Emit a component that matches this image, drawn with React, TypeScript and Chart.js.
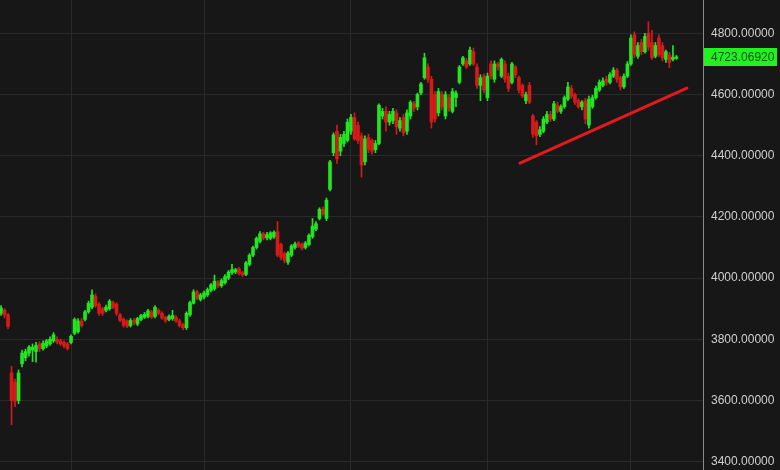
import React, { useEffect, useRef } from "react";
import { Chart, registerables } from "chart.js";

Chart.register(...registerables);

const opens = [
  3885, 3895, 3880, 3690, 3660, 3600, 3720, 3740, 3755, 3765,
  3760, 3785, 3770, 3778, 3785, 3795, 3800, 3795, 3790, 3785,
  3790, 3820, 3825, 3860, 3865, 3890, 3905, 3940, 3915, 3900,
  3895, 3900, 3920, 3915, 3880, 3866, 3860, 3845, 3862, 3850,
  3865, 3872, 3875, 3890, 3875, 3895, 3885, 3872, 3865, 3868,
  3872, 3860, 3848, 3838, 3880, 3918, 3955, 3930, 3938, 3945,
  3960, 3965, 3985, 3975, 3985, 4000, 4018, 4020, 4030, 4018,
  4012, 4045, 4075, 4100, 4120, 4145, 4132, 4130, 4135, 4152,
  4110, 4080, 4052, 4075, 4100, 4115, 4110, 4100, 4110, 4135,
  4160, 4195, 4225, 4195, 4290, 4410, 4480, 4415, 4440, 4450,
  4480, 4525, 4500, 4465, 4380, 4460, 4450, 4420, 4440, 4530,
  4545, 4510, 4515, 4540, 4490, 4525, 4480, 4530, 4570, 4560,
  4605, 4655, 4690, 4650, 4600, 4540, 4600, 4530, 4590, 4545,
  4590, 4640, 4700, 4710, 4700, 4740, 4690, 4630, 4660, 4590,
  4700, 4650, 4700, 4660, 4700, 4660, 4640, 4690, 4655, 4630,
  4580, 4630, 4530, 4510, 4470, 4480, 4510, 4535, 4520, 4565,
  4545, 4560, 4585, 4620, 4600, 4580, 4560, 4580, 4500, 4560,
  4590, 4615, 4630, 4650, 4640, 4660, 4680, 4655, 4625, 4660,
  4700, 4795, 4725, 4770, 4740, 4800, 4770, 4725, 4785, 4760,
  4715, 4730, 4715, 4718,
];

const highs = [
  3910, 3900, 3885, 3712, 3670, 3700, 3765, 3768, 3780, 3785,
  3790, 3792, 3795, 3800, 3808, 3822, 3808, 3800, 3795, 3790,
  3815, 3870, 3868, 3868, 3895, 3925, 3962, 3948, 3920, 3905,
  3912, 3930, 3925, 3920, 3885, 3870, 3864, 3868, 3868, 3872,
  3882, 3888, 3898, 3895, 3910, 3900, 3890, 3876, 3880, 3895,
  3878, 3866, 3852, 3890, 3925, 3962, 3960, 3950, 3958, 3968,
  3982, 4010, 3992, 3998, 4012, 4025, 4045, 4032, 4035, 4022,
  4055, 4080, 4105, 4135, 4152, 4150, 4150, 4152, 4155, 4185,
  4115, 4085, 4088, 4110, 4118, 4120, 4115, 4120, 4145, 4195,
  4185, 4230, 4232, 4262, 4385, 4475, 4500, 4470, 4480, 4520,
  4535, 4540, 4510, 4475, 4465, 4470, 4455, 4450, 4570, 4555,
  4560, 4545, 4555, 4550, 4525, 4535, 4550, 4580, 4578, 4605,
  4640, 4735, 4700, 4660, 4610, 4620, 4610, 4610, 4600, 4620,
  4612, 4695, 4725, 4718, 4755, 4752, 4700, 4665, 4668, 4670,
  4710, 4710, 4705, 4720, 4710, 4670, 4705, 4695, 4660, 4635,
  4608, 4640, 4535, 4515, 4495, 4528, 4545, 4545, 4578, 4575,
  4566, 4596, 4640, 4630, 4605, 4586, 4580, 4588, 4595, 4598,
  4628, 4648, 4655, 4660, 4672, 4688, 4686, 4660, 4668, 4708,
  4795, 4805, 4770, 4780, 4800, 4838, 4810, 4770, 4795, 4770,
  4745, 4738, 4760, 4728,
];

const lows = [
  3878, 3870, 3835, 3521, 3580, 3590, 3710, 3730, 3745, 3727,
  3725, 3760, 3765, 3772, 3780, 3790, 3785, 3780, 3772, 3765,
  3785, 3815, 3820, 3840, 3860, 3885, 3900, 3905, 3878, 3878,
  3890, 3895, 3900, 3878, 3858, 3840, 3838, 3840, 3848, 3845,
  3860, 3868, 3870, 3868, 3870, 3880, 3865, 3855, 3860, 3862,
  3855, 3840, 3832, 3832, 3875, 3915, 3930, 3925, 3932, 3940,
  3955, 3960, 3970, 3970, 3980, 3995, 4012, 4015, 4010, 4005,
  4008, 4040, 4070, 4095, 4115, 4125, 4125, 4125, 4130, 4070,
  4060, 4050, 4045, 4070, 4095, 4100, 4092, 4095, 4105, 4130,
  4155, 4190, 4205, 4188, 4285, 4400, 4375, 4400, 4430, 4445,
  4470, 4450, 4440, 4330, 4370, 4410, 4405, 4410, 4435, 4520,
  4480, 4500, 4505, 4470, 4480, 4465, 4470, 4520, 4545, 4550,
  4600, 4650, 4640, 4490, 4510, 4530, 4550, 4520, 4545, 4540,
  4560, 4635, 4695, 4685, 4695, 4695, 4620, 4580, 4605, 4580,
  4650, 4640, 4680, 4655, 4640, 4610, 4635, 4655, 4605, 4590,
  4570, 4570, 4460, 4436, 4462, 4475, 4505, 4512, 4515, 4540,
  4538, 4555, 4580, 4588, 4568, 4555, 4550, 4505, 4490, 4555,
  4585, 4610, 4625, 4630, 4635, 4655, 4640, 4615, 4620, 4655,
  4695, 4720, 4718, 4730, 4735, 4745, 4715, 4720, 4725, 4710,
  4705, 4688, 4710, 4715,
];

const closes = [
  3902, 3880, 3842, 3600, 3598, 3690, 3755, 3760, 3775, 3775,
  3780, 3770, 3787, 3795, 3800, 3815, 3792, 3785, 3778, 3770,
  3810, 3865, 3860, 3845, 3890, 3918, 3945, 3910, 3885, 3885,
  3905, 3925, 3905, 3885, 3862, 3846, 3843, 3862, 3855, 3868,
  3878, 3882, 3893, 3872, 3905, 3885, 3870, 3862, 3875, 3878,
  3860, 3845, 3838, 3885, 3920, 3955, 3935, 3945, 3952, 3962,
  3978, 3990, 3975, 3992, 4005, 4020, 4028, 4028, 4015, 4010,
  4050, 4075, 4100, 4130, 4145, 4130, 4142, 4148, 4150, 4075,
  4068, 4058, 4082, 4105, 4112, 4105, 4098, 4115, 4140, 4170,
  4178, 4225, 4210, 4255, 4380, 4468, 4390, 4460, 4470, 4510,
  4525, 4455, 4450, 4370, 4455, 4420, 4415, 4440, 4565, 4545,
  4510, 4535, 4545, 4495, 4515, 4475, 4540, 4575, 4555, 4600,
  4635, 4720, 4650, 4510, 4520, 4610, 4560, 4600, 4555, 4610,
  4605, 4690, 4720, 4690, 4745, 4700, 4630, 4655, 4615, 4660,
  4660, 4700, 4690, 4715, 4650, 4620, 4700, 4665, 4615, 4595,
  4600, 4575, 4470, 4465, 4485, 4520, 4535, 4520, 4570, 4545,
  4560, 4590, 4625, 4595, 4575, 4560, 4575, 4520, 4585, 4590,
  4620, 4640, 4645, 4640, 4665, 4680, 4650, 4625, 4660, 4700,
  4785, 4730, 4760, 4740, 4790, 4755, 4720, 4760, 4730, 4720,
  4740, 4705, 4722, 4723.0692,
];

// candle indices where a new month starts (vertical grid lines)
const monthStarts = [20, 58, 100, 139, 180];
const yTicks = [3400, 3600, 3800, 4000, 4200, 4400, 4600, 4800];
// hand-drawn support line (candle index, price)
const trendX = [148.3, 196];
const trendY = [4376, 4621];
const lastPrice = 4723.0692;

const UP = "#22e622";
const DOWN = "#d61a1a";
const FONT = '"Liberation Sans", Arial, sans-serif';

export default function App() {
  const ref = useRef<HTMLCanvasElement>(null);

  useEffect(() => {
    if (!ref.current) return;
    const idx = closes.map((_, i) => i);
    const color = (ctx: any) =>
      closes[ctx.dataIndex] >= opens[ctx.dataIndex] ? UP : DOWN;

    const priceTag = {
      id: "priceTag",
      afterDraw(chart: any) {
        const c = chart.ctx;
        const y = chart.scales.y.getPixelForValue(lastPrice);
        const left = chart.chartArea.right + 1;
        c.save();
        c.fillStyle = "#1ff21f";
        c.fillRect(left, Math.round(y) - 9, 73, 18);
        c.fillStyle = "#155215";
        c.font = "12px " + FONT;
        c.textBaseline = "middle";
        c.textAlign = "left";
        c.fillText(lastPrice.toFixed(5), left + 7, Math.round(y) + 0.5);
        c.restore();
      },
    };

    const chart = new Chart(ref.current, {
      type: "bar",
      data: {
        datasets: [
          {
            type: "line",
            data: trendX.map((x, k) => ({ x, y: trendY[k] })),
            borderColor: "#e3191d",
            borderWidth: 3,
            pointRadius: 0,
            borderCapStyle: "round",
            order: 0,
          } as any,
          {
            type: "bar",
            data: idx.map((i) => ({ x: i, y: [opens[i], closes[i]] })),
            backgroundColor: color,
            barThickness: 3,
            minBarLength: 1,
            grouped: false,
            order: 1,
          } as any,
          {
            type: "bar",
            data: idx.map((i) => ({ x: i, y: [lows[i], highs[i]] })),
            backgroundColor: color,
            barThickness: 1,
            grouped: false,
            order: 2,
          } as any,
        ],
      },
      options: {
        animation: false,
        responsive: false,
        maintainAspectRatio: false,
        layout: { padding: 0 },
        plugins: {
          legend: { display: false },
          tooltip: { enabled: false },
        },
        scales: {
          x: {
            type: "linear",
            min: -0.3,
            max: 200.6,
            offset: false,
            grid: { color: "#2a2a2a", drawTicks: false, offset: false },
            border: { display: false },
            ticks: { display: false },
            afterBuildTicks: (s: any) => {
              s.ticks = monthStarts.map((v) => ({ value: v }));
            },
            afterFit: (s: any) => {
              s.height = 0;
              s.paddingLeft = 0;
              s.paddingRight = 0;
            },
          },
          y: {
            type: "linear",
            position: "right",
            min: 3373,
            max: 4909,
            beginAtZero: false,
            grid: { color: "#2a2a2a", drawTicks: false },
            border: { display: true, color: "#8a8a8a" },
            ticks: {
              color: "#cfcfcf",
              padding: 8,
              font: { family: FONT, size: 12 },
              callback: (v: any) => Number(v).toFixed(5),
            },
            afterBuildTicks: (s: any) => {
              s.ticks = yTicks.map((v) => ({ value: v }));
            },
            afterFit: (s: any) => {
              s.width = 77;
              s.paddingTop = 0;
              s.paddingBottom = 0;
            },
          },
        },
      } as any,
      plugins: [priceTag],
    });
    return () => chart.destroy();
  }, []);

  return (
    <div
      style={{
        position: "fixed",
        left: 0,
        top: 0,
        width: 780,
        height: 470,
        background: "#171717",
      }}
    >
      <canvas ref={ref} width={780} height={470} />
    </div>
  );
}
